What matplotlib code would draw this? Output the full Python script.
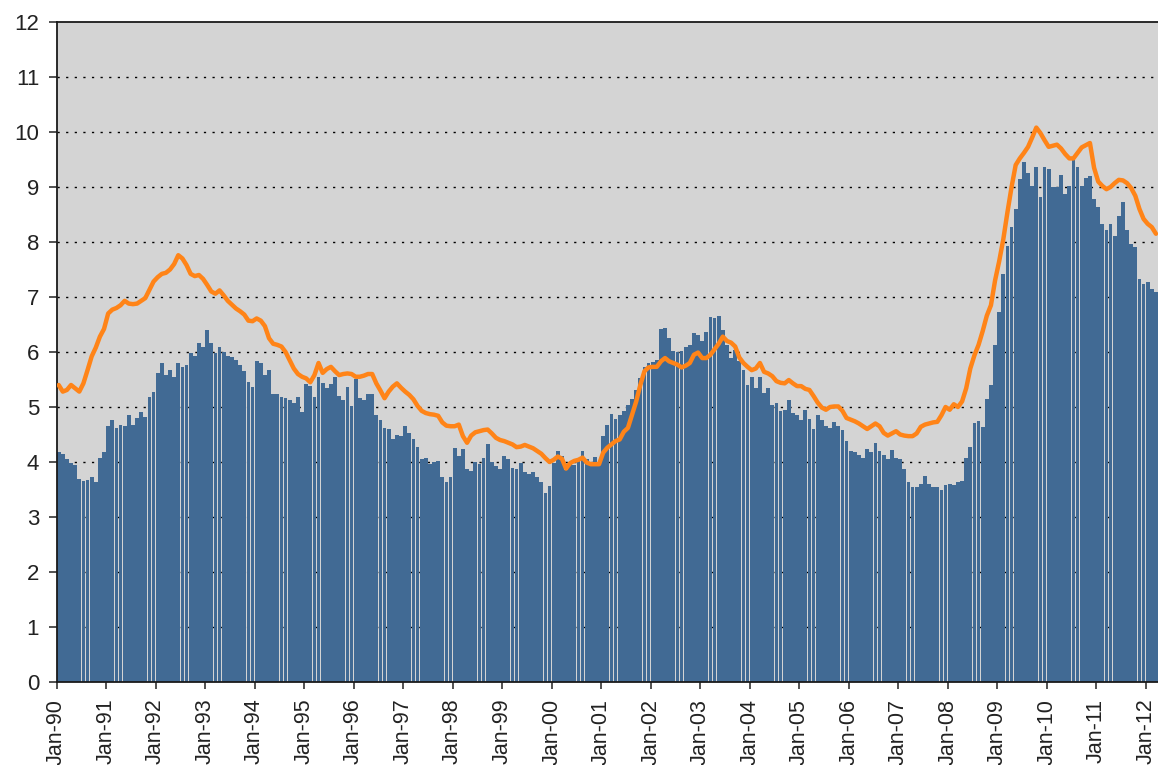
import numpy as np
import matplotlib
matplotlib.use("Agg")
import matplotlib.pyplot as plt
from matplotlib import font_manager

# ---------------- data (monthly, Jan-1990 .. Mar-2012) ----------------
bar_values = [
    4.18, 4.14, 4.05, 3.98, 3.95, 3.70, 3.65, 3.67, 3.72, 3.63, 4.08, 4.18,   # 1990
    4.65, 4.77, 4.62, 4.68, 4.65, 4.85, 4.68, 4.80, 4.90, 4.82, 5.18, 5.28,   # 1991
    5.61, 5.80, 5.58, 5.67, 5.55, 5.80, 5.72, 5.77, 5.99, 5.93, 6.16, 6.10,   # 1992
    6.40, 6.17, 5.98, 6.10, 6.00, 5.92, 5.90, 5.86, 5.77, 5.65, 5.46, 5.37,   # 1993
    5.83, 5.80, 5.58, 5.67, 5.24, 5.24, 5.19, 5.16, 5.12, 5.07, 5.19, 4.90,   # 1994
    5.42, 5.39, 5.19, 5.55, 5.43, 5.34, 5.42, 5.55, 5.20, 5.13, 5.37, 5.01,   # 1995
    5.51, 5.16, 5.12, 5.24, 5.24, 4.86, 4.77, 4.62, 4.60, 4.42, 4.50, 4.48,   # 1996
    4.66, 4.52, 4.41, 4.28, 4.06, 4.08, 3.96, 4.00, 4.02, 3.72, 3.63, 3.72,   # 1997
    4.26, 4.11, 4.23, 3.88, 3.84, 4.00, 3.96, 4.08, 4.32, 4.00, 3.92, 3.88,   # 1998
    4.11, 4.05, 3.90, 3.87, 3.99, 3.82, 3.78, 3.82, 3.72, 3.63, 3.43, 3.56,   # 1999
    3.99, 4.20, 4.11, 3.86, 3.99, 3.94, 4.06, 4.20, 4.06, 3.99, 4.10, 3.99,   # 2000
    4.47, 4.68, 4.88, 4.78, 4.86, 4.92, 5.04, 5.14, 5.31, 5.52, 5.73, 5.80,   # 2001
    5.81, 5.86, 6.41, 6.43, 6.25, 6.02, 6.00, 6.02, 6.10, 6.13, 6.34, 6.30,   # 2002
    6.20, 6.37, 6.64, 6.61, 6.65, 6.40, 6.13, 5.89, 6.04, 5.83, 5.67, 5.40,   # 2003
    5.54, 5.34, 5.55, 5.25, 5.34, 5.04, 5.07, 4.92, 4.95, 5.12, 4.89, 4.86,   # 2004
    4.76, 4.95, 4.78, 4.60, 4.86, 4.77, 4.66, 4.62, 4.72, 4.65, 4.59, 4.38,   # 2005
    4.20, 4.18, 4.12, 4.08, 4.23, 4.18, 4.35, 4.20, 4.12, 4.05, 4.22, 4.08,   # 2006
    4.06, 3.87, 3.63, 3.55, 3.55, 3.60, 3.75, 3.60, 3.55, 3.55, 3.49, 3.58,   # 2007
    3.60, 3.58, 3.64, 3.66, 4.07, 4.28, 4.70, 4.74, 4.64, 5.15, 5.40, 6.12,   # 2008
    6.73, 7.42, 7.93, 8.27, 8.60, 9.14, 9.46, 9.26, 9.02, 9.37, 8.81, 9.37,   # 2009
    9.32, 9.00, 9.00, 9.21, 8.87, 9.02, 9.52, 9.37, 9.02, 9.17, 9.20, 8.79,   # 2010
    8.63, 8.33, 8.22, 8.33, 8.10, 8.47, 8.73, 8.21, 7.96, 7.90, 7.33, 7.24,   # 2011
    7.27, 7.15, 7.09,                                                         # 2012
]

line_values = [
    5.40, 5.28, 5.31, 5.40, 5.34, 5.28, 5.43, 5.67, 5.92, 6.08, 6.28, 6.42,   # 1990
    6.70, 6.77, 6.80, 6.85, 6.93, 6.88, 6.87, 6.88, 6.93, 6.98, 7.13, 7.28,   # 1991
    7.36, 7.42, 7.44, 7.50, 7.60, 7.76, 7.70, 7.58, 7.42, 7.38, 7.40, 7.33,   # 1992
    7.22, 7.10, 7.06, 7.12, 7.03, 6.93, 6.86, 6.79, 6.74, 6.68, 6.57, 6.56,   # 1993
    6.61, 6.57, 6.47, 6.25, 6.15, 6.13, 6.10, 6.00, 5.85, 5.70, 5.60, 5.55,   # 1994
    5.52, 5.45, 5.58, 5.80, 5.62, 5.69, 5.73, 5.65, 5.58, 5.60, 5.61, 5.60,   # 1995
    5.55, 5.55, 5.57, 5.60, 5.60, 5.43, 5.30, 5.16, 5.28, 5.37, 5.43, 5.35,   # 1996
    5.28, 5.22, 5.14, 5.02, 4.93, 4.89, 4.87, 4.86, 4.84, 4.72, 4.66, 4.65,   # 1997
    4.65, 4.68, 4.47, 4.35, 4.48, 4.54, 4.56, 4.58, 4.59, 4.52, 4.44, 4.40,   # 1998
    4.38, 4.35, 4.32, 4.27, 4.28, 4.31, 4.28, 4.25, 4.20, 4.15, 4.07, 4.00,   # 1999
    4.04, 4.10, 4.06, 3.88, 3.98, 4.02, 4.04, 4.08, 3.99, 3.96, 3.96, 3.96,   # 2000
    4.17, 4.26, 4.32, 4.38, 4.41, 4.55, 4.62, 4.86, 5.10, 5.40, 5.65, 5.72,   # 2001
    5.73, 5.73, 5.83, 5.89, 5.83, 5.80, 5.77, 5.72, 5.75, 5.80, 5.95, 5.99,   # 2002
    5.89, 5.89, 5.95, 6.05, 6.15, 6.28, 6.20, 6.17, 6.10, 5.90, 5.80, 5.73,   # 2003
    5.67, 5.70, 5.80, 5.64, 5.61, 5.56, 5.47, 5.44, 5.43, 5.49, 5.43, 5.38,   # 2004
    5.38, 5.33, 5.31, 5.20, 5.08, 4.99, 4.95, 5.00, 5.01, 5.01, 4.93, 4.80,   # 2005
    4.77, 4.74, 4.70, 4.65, 4.60, 4.65, 4.70, 4.65, 4.53, 4.48, 4.52, 4.56,   # 2006
    4.50, 4.48, 4.47, 4.47, 4.52, 4.64, 4.68, 4.70, 4.72, 4.73, 4.85, 5.00,   # 2007
    4.95, 5.05, 5.00, 5.10, 5.34, 5.70, 5.94, 6.13, 6.38, 6.66, 6.85, 7.30,   # 2008
    7.65, 8.05, 8.54, 9.00, 9.40, 9.52, 9.62, 9.73, 9.90, 10.08, 9.98, 9.85,  # 2009
    9.73, 9.75, 9.77, 9.70, 9.60, 9.52, 9.52, 9.62, 9.72, 9.76, 9.80, 9.35,   # 2010
    9.10, 9.02, 8.96, 9.00, 9.07, 9.13, 9.12, 9.07, 8.98, 8.84, 8.60, 8.42,   # 2011
    8.33, 8.27, 8.15,                                                         # 2012
]

tick_labels = ["Jan-%02d" % (y % 100) for y in range(1990, 2013)]
y_ticks = list(range(0, 13))

# ---------------- styling ----------------
avail = {f.name for f in font_manager.fontManager.ttflist}
if "Liberation Sans Narrow" in avail:
    font_family = ["Liberation Sans Narrow", "DejaVu Sans"]
    ysize, xsize = 19, 18
else:
    font_family = ["Liberation Sans", "DejaVu Sans"]
    ysize, xsize = 16, 15.5
plt.rcParams["font.family"] = font_family

BAR_COLOR = "#416a94"
LINE_COLOR = "#ff8418"
BG = "#d4d4d4"

n = len(bar_values)
x = np.arange(n) + 0.5

fig = plt.figure(figsize=(11.58, 7.65), dpi=100)
ax = fig.add_axes([56.6 / 1158, 83 / 765, 1 - 56.6 / 1158, 660 / 765])
ax.set_facecolor(BG)

for yv in range(1, 12):
    ax.axhline(yv, color="black", lw=1.0, linestyle=(0, (1.6, 4.6)), zorder=1)

ax.bar(x, bar_values, width=0.9, color=BAR_COLOR, linewidth=0, zorder=2)
ax.plot(x, line_values, color=LINE_COLOR, lw=3.2, solid_joinstyle="round",
        solid_capstyle="round", zorder=3)

ax.set_xlim(0, 267)
ax.set_ylim(0, 12)
ax.set_yticks(y_ticks)
ax.set_yticklabels([str(v) for v in y_ticks])
ax.set_xticks(np.arange(len(tick_labels)) * 12)
ax.set_xticklabels(tick_labels, rotation=90)

ax.tick_params(axis="y", direction="out", length=5.5, width=1.1, pad=7,
               labelsize=ysize, colors="#222222")
ax.tick_params(axis="x", direction="out", length=5, width=1.1, pad=7,
               labelsize=xsize, colors="#222222")

for side in ["left", "bottom", "top"]:
    ax.spines[side].set_color("#1a1a1a")
    ax.spines[side].set_linewidth(1.3)
ax.spines["right"].set_visible(False)

fig.savefig("out.png", dpi=100, facecolor="white")
